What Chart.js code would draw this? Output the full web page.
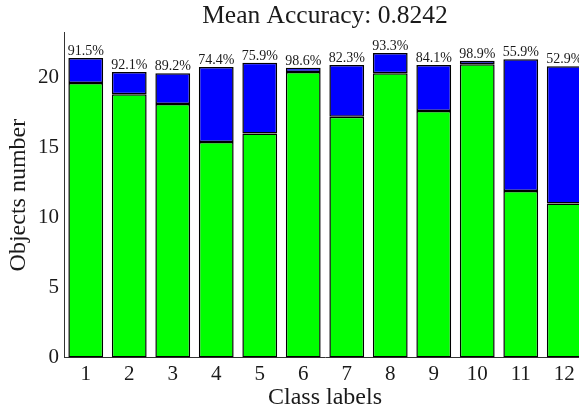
<!DOCTYPE html>
<html>
<head>
<meta charset="utf-8">
<script src="https://cdn.jsdelivr.net/npm/chart.js@4.4.1/dist/chart.umd.min.js"></script>
<style>
  html, body { margin: 0; padding: 0; background: #fff; overflow: hidden; }
  #wrap { width: 586px; height: 412px; position: relative; }
</style>
</head>
<body>
<div id="wrap"><canvas id="accChart"></canvas></div>
<script>
/********************
DATA
********************/
var classLabels = ["1", "2", "3", "4", "5", "6", "7", "8", "9", "10", "11", "12"];
var correctCounts = [19.6, 18.8, 18.1, 15.4, 16.0, 20.4, 17.2, 20.3, 17.6, 20.95, 11.9, 11.0];
var wrongCounts = [1.8, 1.6, 2.2, 5.35, 5.05, 0.3, 3.7, 1.45, 3.3, 0.25, 9.4, 9.8];
var accuracyPct = [91.5, 92.1, 89.2, 74.4, 75.9, 98.6, 82.3, 93.3, 84.1, 98.9, 55.9, 52.9];
var meanAccuracy = "0.8242";

var serif = "'Liberation Serif', 'Times New Roman', serif";
var ink = '#1a1a1a';

// percent labels above every stack + title centred on the axes (like matplotlib)
var pctLabels = {
  id: 'pctLabels',
  afterDatasetsDraw: function (chart) {
    var ctx = chart.ctx;
    var xs = chart.scales.x, ys = chart.scales.y;
    var area = chart.chartArea;
    ctx.save();
    ctx.font = '14px ' + serif;
    ctx.fillStyle = ink;
    ctx.textAlign = 'center';
    ctx.textBaseline = 'alphabetic';
    for (var i = 0; i < classLabels.length; i++) {
      var top = ys.getPixelForValue(correctCounts[i] + wrongCounts[i]);
      ctx.fillText(accuracyPct[i].toFixed(1) + '%', xs.getPixelForValue(i), top - 3);
    }
    ctx.font = '25.5px ' + serif;
    ctx.textBaseline = 'middle';
    ctx.fillText('Mean Accuracy: ' + meanAccuracy, (area.left + area.right) / 2, 16.3);
    ctx.restore();
  }
};

var ctx = document.getElementById('accChart').getContext('2d');
var chart = new Chart(ctx, {
    type: 'bar',
    data: {
        labels: classLabels,
        datasets: [{
            label: 'correct',
            data: correctCounts,
            backgroundColor: '#00ff00',
            borderColor: '#000',
            borderWidth: 1.5,
            borderSkipped: false,
            categoryPercentage: 1.0,
            barPercentage: 0.8
        }, {
            label: 'wrong',
            data: wrongCounts,
            backgroundColor: '#0000ff',
            borderColor: '#000',
            borderWidth: 1.5,
            borderSkipped: false,
            categoryPercentage: 1.0,
            barPercentage: 0.8
        }]
    },
    plugins: [pctLabels],
    options: {
      responsive: true,
      maintainAspectRatio: false,
      animation: false,
      layout: { padding: { top: 32.7, left: 0, right: 0, bottom: 0 } },
      plugins: {
        legend: { display: false },
        tooltip: { enabled: false },
        title: { display: false }
      },
      scales: {
        x: {
          stacked: true,
          grid: { display: false, drawTicks: false },
          border: { display: true, color: '#333', width: 1 },
          ticks: { color: ink, font: { family: serif, size: 21 }, padding: 4, maxRotation: 0 },
          title: {
            display: true, text: 'Class labels', color: ink,
            font: { family: serif, size: 24 }, padding: { top: 0, bottom: 0 }
          },
          afterFit: function (s) { s.height = 54.5; }
        },
        y: {
          stacked: true,
          min: 0,
          max: 23.2,
          grid: { display: false, drawTicks: false },
          border: { display: true, color: '#333', width: 1 },
          ticks: { stepSize: 5, includeBounds: false, color: ink, font: { family: serif, size: 21 }, padding: 5 },
          title: {
            display: true, text: 'Objects number', color: ink,
            font: { family: serif, size: 24 }, padding: { top: 4, bottom: 0 }
          },
          afterFit: function (s) { s.width = 64; }
        }
      }
    }
});
</script>
</body>
</html>
